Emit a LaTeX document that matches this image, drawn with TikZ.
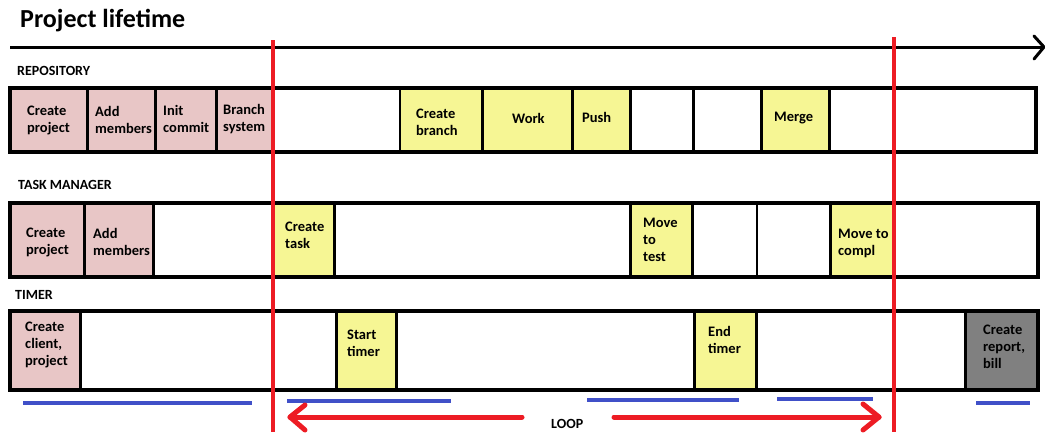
\documentclass[tikz,border=0pt]{standalone}
\usepackage{fontspec}
\setmainfont{Carlito}
\definecolor{pinkc}{RGB}{232,198,198}
\definecolor{yellowc}{RGB}{246,246,148}
\definecolor{grayc}{RGB}{128,128,128}
\definecolor{redc}{RGB}{237,28,36}
\definecolor{bluec}{RGB}{64,80,200}
\begin{document}
\begin{tikzpicture}[x=1pt,y=-1pt,
  txt/.style={font=\fontsize{14.5}{17}\selectfont\bfseries, align=left, anchor=west, inner sep=0pt},
  lbl/.style={font=\fontsize{14}{16}\selectfont\bfseries, anchor=west, inner sep=0pt},
  div/.style={draw=black, line width=3pt},
  frame/.style={draw=black, line width=3.5pt},
  redl/.style={draw=redc, line width=4pt},
  redarrow/.style={draw=redc, line width=5pt, line cap=round, line join=round},
  bluel/.style={draw=bluec, line width=3.5pt},
]
\useasboundingbox (0,0) rectangle (1045,432);

% title and timeline
\node[anchor=west, inner sep=0pt, font=\fontsize{26}{30}\selectfont\bfseries] (title) at (20,21) {Project lifetime};
\coordinate (tl0) at (10,47);
\coordinate (tl1) at (1044,47);
\draw[line width=3pt] (tl0) -- (tl1);
\draw[line width=3pt, line cap=round, line join=round] (1034,36) -- (1044,47) -- (1034,59);

% row labels
\node[lbl] (repo) at (17,71) {REPOSITORY};
\node[lbl] (taskm) at (18,185) {TASK MANAGER};
\node[lbl] (timer) at (15,295) {TIMER};

% ---------- Row 1: repository ----------
\fill[pinkc] (10,88) rectangle (272,152);
\fill[yellowc] (400,88) rectangle (630,152);
\fill[yellowc] (761,88) rectangle (829,152);
\foreach \x in {87,155,216,482,572,630,693,761,829}
  \draw[div] (\x,88) -- (\x,152);
\draw[black, line width=1.5pt] (400,88) -- (400,152);
\draw[frame] (10,88) rectangle (1036,152);

\node[txt] (r1) at (27,120) {Create\\project};
\node[txt] (r2) at (95,120) {Add\\members};
\node[txt] (r3) at (163,119) {Init\\commit};
\node[txt] (r4) at (223,119) {Branch\\system};
\node[txt] (r5) at (416,122) {Create\\branch};
\node[txt] (r6) at (512,118) {Work};
\node[txt] (r7) at (582,117) {Push};
\node[txt] (r8) at (774,118) {Merge};

% ---------- Row 2: task manager ----------
\fill[pinkc] (10,203) rectangle (153,277);
\fill[yellowc] (272,203) rectangle (334,277);
\fill[yellowc] (630,203) rectangle (692,277);
\fill[yellowc] (830,203) rectangle (893,277);
\foreach \x in {84,153,334,630,692,830}
  \draw[div] (\x,203) -- (\x,277);
\draw[black, line width=2pt] (757,203) -- (757,277);
\draw[frame] (10,203) rectangle (1038,277);

\node[txt] (t1) at (26,242) {Create\\project};
\node[txt] (t2) at (93,242) {Add\\members};
\node[txt] (t3) at (285,235) {Create\\task};
\node[txt] (t4) at (643,240) {Move\\to\\test};
\node[txt] (t5) at (838,243) {Move to\\compl};

% ---------- Row 3: timer ----------
\fill[pinkc] (10,311) rectangle (80,390);
\fill[yellowc] (336,311) rectangle (396,390);
\fill[yellowc] (694,311) rectangle (756,390);
\fill[grayc] (965,311) rectangle (1038,390);
\foreach \x in {80,336,396,694,756,965}
  \draw[div] (\x,311) -- (\x,390);
\draw[frame] (10,311) rectangle (1038,390);

\node[txt] (m1) at (25,345) {Create\\client,\\project};
\node[txt] (m2) at (347,343) {Start\\timer};
\node[txt] (m3) at (708,340) {End\\timer};
\node[txt] (m4) at (983,347) {Create\\report,\\bill};

% ---------- blue underlines ----------
\draw[bluel] (23,403) -- (252,403);
\draw[bluel] (287,401) -- (451,401);
\draw[bluel] (587,400) -- (739,400);
\draw[bluel] (777,399) -- (873,399);
\draw[bluel] (976,403) -- (1030,403);

% ---------- red loop markers ----------
\draw[redl] (273,40) -- (273,432);
\draw[redl] (894,37) -- (894,432);

\draw[redarrow] (522,417) -- (290,417);
\draw[redarrow] (305,405) -- (290,417) -- (305,430);
\draw[redarrow] (614,417) -- (879,417);
\draw[redarrow] (863,404) -- (879,417) -- (863,430);

\node[lbl] (loop) at (551,424) {LOOP};
\end{tikzpicture}
\end{document}
